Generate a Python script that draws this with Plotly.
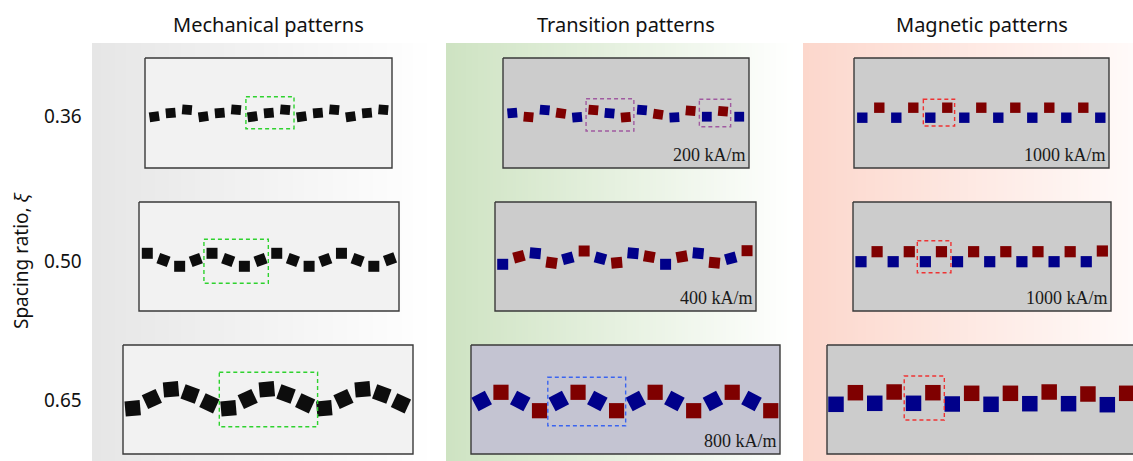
import numpy as np
import plotly.graph_objects as go

W, H = 1133, 461

# ---------------- text content ----------------
column_titles = ["Mechanical patterns", "Transition patterns", "Magnetic patterns"]
spacing_ratios = ["0.36", "0.50", "0.65"]
axis_title = "Spacing ratio, <i>ξ</i>"
field_transition = ["200 kA/m", "400 kA/m", "800 kA/m"]
field_magnetic = ["1000 kA/m", "1000 kA/m", "1000 kA/m"]

# ---------------- data ----------------
# transverse displacement of each square (px, + = up), rotation (deg, clockwise), polarity
# k = non-magnetic (black), b = blue, r = red
mech036_disp = [-3.7, 0.0, 3.3, -3.7, 0.0, 3.3, -3.7, 0.0, 3.3, -3.7, 0.0, 3.3, -3.7, 0.0, 3.3]
mech036_angle = [-8, -5, 5, -8, -5, 5, -8, -5, 5, -8, -5, 5, -8, -5, 5]
mech036_pol = ["k"] * 15

mech050_disp = [3.2, -3.5, -9.8, -3.5, 3.2, -3.5, -9.8, -3.5, 3.2, -3.5, -9.8, -3.5, 3.2, -3.5, -9.8, -2.8]
mech050_angle = [0, 20, 0, -20, 0, 20, 0, -20, 0, 20, 0, -20, 0, 20, 0, -20]
mech050_pol = ["k"] * 16

mech065_disp = [-8.8, 0.5, 10.2, 5.5, -3.8, -8.8, 0.5, 10.2, 5.5, -3.8, -8.8, 0.5, 10.2, 5.5, -3.8]
mech065_angle = [-5, -25, -5, 20, 25, -5, -25, -5, 20, 25, -5, -25, -5, 20, 25]
mech065_pol = ["k"] * 15

trans036_disp = [0.0, -4.0, 3.0, -0.3, -4.3, 3.0, -0.3, -4.3, 3.0, -1.3, -4.3, 2.3, -3.7, 1.7, -3.7]
trans036_angle = [-5, 5, 5, 8, -5, 5, 5, -5, 5, 8, -3, 5, 0, 5, 0]
trans036_pol = ["b", "r", "b", "r", "b", "r", "b", "r", "b", "r", "b", "r", "b", "r", "b"]

trans050_disp = [-7.8, -0.2, 3.2, -6.2, -1.8, 5.5, -1.8, -6.2, 3.2, -0.2, -7.8, -0.2, 3.2, -6.2, -1.8, 5.8]
trans050_angle = [0, -15, 5, 8, -15, 0, 15, -5, 5, 10, 0, -10, 5, 5, -15, 0]
trans050_pol = ["b", "r"] * 8

trans065_disp = [-1.5, 7.2, -1.5, -11.2, -1.5, 7.2, -1.5, -11.2, -1.5, 7.2, -1.5, -11.2, -1.5, 7.2, -1.5, -11.2]
trans065_angle = [-28, 0, 28, 0, -28, 0, 28, 0, -28, 0, 28, 0, -28, 0, 28, 0]
trans065_pol = ["b", "r"] * 8

mag036_disp = [-4.7, 5.3, -4.7, 5.3, -4.7, 5.3, -4.7, 5.3, -4.7, 5.3, -4.7, 5.3, -4.7, 5.3, -4.7]
mag036_angle = [0] * 15
mag036_pol = ["b", "r", "b", "r", "b", "r", "b", "r", "b", "r", "b", "r", "b", "r", "b"]

mag050_disp = [-5.2, 4.8, -5.2, 4.8, -5.2, 4.8, -5.2, 4.8, -5.2, 4.8, -5.2, 4.8, -5.2, 4.8, -5.2, 5.5]
mag050_angle = [0] * 16
mag050_pol = ["b", "r"] * 8

mag065_disp = [-4.8, 6.8, -3.8, 7.5, -3.8, 6.8, -4.5, 6.2, -4.8, 6.2, -4.2, 7.5, -4.2, 5.5, -5.2, 6.2]
mag065_angle = [0] * 16
mag065_pol = ["b", "r"] * 8

# ---------------- layout geometry (px) ----------------
pol_colors = {"k": "#0d0d0d", "b": "#00008a", "r": "#7f0000"}

panels = [
    dict(box=(145, 58, 392, 168), x0=154.3, pitch=16.36, size=9.8, fill="#f2f2f2",
         disp=mech036_disp, ang=mech036_angle, pol=mech036_pol, label=None,
         cells=[((5.6, 8.54), (96.7, 128.7), "#2fd22f")]),
    dict(box=(139, 202, 399, 311), x0=147.3, pitch=16.18, size=11.0, fill="#f2f2f2",
         disp=mech050_disp, ang=mech050_angle, pol=mech050_pol, label=None,
         cells=[((3.5, 7.48), (239.3, 283.3), "#2fd22f")]),
    dict(box=(123, 345, 413, 454), x0=132.7, pitch=19.16, size=15.2, fill="#f2f2f2",
         disp=mech065_disp, ang=mech065_angle, pol=mech065_pol, label=None,
         cells=[((4.52, 9.65), (372.3, 426.7), "#2fd22f")]),
    dict(box=(503, 58, 749, 168), x0=512.3, pitch=16.21, size=9.8, fill="#cccccc",
         disp=trans036_disp, ang=trans036_angle, pol=trans036_pol, label=field_transition[0],
         cells=[((4.55, 7.5), (98.7, 131), "#a05aa0"), ((11.54, 13.47), (99.3, 126.7), "#a05aa0")]),
    dict(box=(495, 202, 756, 311), x0=502.7, pitch=16.29, size=11.0, fill="#cccccc",
         disp=trans050_disp, ang=trans050_angle, pol=trans050_pol, label=field_transition[1],
         cells=[]),
    dict(box=(471, 345, 780, 454), x0=481.7, pitch=19.27, size=15.2, fill="#c4c4d2",
         disp=trans065_disp, ang=trans065_angle, pol=trans065_pol, label=field_transition[2],
         cells=[((3.43, 7.47), (377.3, 425.7), "#3a64f0")]),
    dict(box=(854, 58, 1109, 168), x0=862.3, pitch=17.0, size=10.4, fill="#cccccc",
         disp=mag036_disp, ang=mag036_angle, pol=mag036_pol, label=field_magnetic[0],
         cells=[((3.59, 5.43), (99.3, 126), "#ee3333")]),
    dict(box=(853, 202, 1111, 311), x0=861.0, pitch=16.09, size=11.2, fill="#cccccc",
         disp=mag050_disp, ang=mag050_angle, pol=mag050_pol, label=field_magnetic[1],
         cells=[((3.5, 5.59), (240.7, 272.7), "#ee3333")]),
    dict(box=(827, 345, 1146, 454), x0=836.0, pitch=19.38, size=15.5, fill="#cccccc",
         disp=mag065_disp, ang=mag065_angle, pol=mag065_pol, label=field_magnetic[2],
         cells=[((3.52, 5.59), (376, 420), "#ee3333")]),
]

bands = [
    dict(x0=92, x1=436, c0="#e6e6e6", c1="#ffffff"),
    dict(x0=446, x1=796, c0="#cee3c2", c1="#ffffff"),
    dict(x0=803, x1=1133, c0="#fcd7cc", c1="#fffaf9"),
]
band_top = 43

fig = go.Figure()

for b in bands:
    n = 120
    xs = np.linspace(b["x0"], b["x1"], n + 1)
    fig.add_trace(go.Heatmap(
        x=xs, y=[band_top, H], z=[list(range(n))],
        colorscale=[[0, b["c0"]], [1, b["c1"]]],
        showscale=False, hoverinfo="skip", zsmooth=False,
    ))

shapes = []
annotations = []

for p in panels:
    l, t, r, bt = p["box"]
    ymid = (t + bt) / 2
    fig.add_trace(go.Scatter(
        x=[l, r, r, l, l], y=[t, t, bt, bt, t], mode="lines", fill="toself",
        fillcolor=p["fill"], line=dict(color="#3a3a3a", width=1.4),
        hoverinfo="skip", showlegend=False,
    ))
    n = len(p["disp"])
    xs = [p["x0"] + i * p["pitch"] for i in range(n)]
    ys = [ymid - d for d in p["disp"]]
    fig.add_trace(go.Scatter(
        x=xs, y=ys, mode="markers", hoverinfo="skip", showlegend=False,
        marker=dict(symbol="square", size=p["size"], angle=p["ang"],
                    color=[pol_colors[c] for c in p["pol"]], line=dict(width=0)),
    ))
    for (ia, ib), (ya, yb), col in p["cells"]:
        shapes.append(dict(
            type="rect", xref="x", yref="y",
            x0=p["x0"] + ia * p["pitch"], x1=p["x0"] + ib * p["pitch"],
            y0=ya, y1=yb, line=dict(color=col, width=1.4, dash="4px,3px"),
            fillcolor="rgba(0,0,0,0)", layer="above",
        ))
    if p["label"]:
        annotations.append(dict(
            x=r - 1, y=bt - 1, xref="x", yref="y", xanchor="right", yanchor="bottom",
            text=p["label"], showarrow=False,
            font=dict(family="Liberation Serif", size=18, color="#1a1a1a"),
        ))

title_x = [268, 626, 982]
for tx, tt in zip(title_x, column_titles):
    annotations.append(dict(
        x=tx, y=24, xref="x", yref="y", xanchor="center", yanchor="middle",
        text=tt, showarrow=False, font=dict(family="Noto Sans", size=20, color="#111111"),
    ))

row_y = [115.7, 260.5, 399.5]
for ry, rt in zip(row_y, spacing_ratios):
    annotations.append(dict(
        x=62.5, y=ry, xref="x", yref="y", xanchor="center", yanchor="middle",
        text=rt, showarrow=False, font=dict(family="Noto Sans", size=19, color="#111111"),
    ))

annotations.append(dict(
    x=21, y=260, xref="x", yref="y", xanchor="center", yanchor="middle",
    text=axis_title, textangle=-90, showarrow=False,
    font=dict(family="Noto Sans", size=19, color="#111111"),
))

fig.update_layout(
    width=W, height=H, margin=dict(l=0, r=0, t=0, b=0),
    paper_bgcolor="white", plot_bgcolor="white", showlegend=False,
    xaxis=dict(range=[0, W], visible=False, fixedrange=True),
    yaxis=dict(range=[H, 0], visible=False, fixedrange=True),
    shapes=shapes, annotations=annotations,
)

fig.write_html("out.html")
